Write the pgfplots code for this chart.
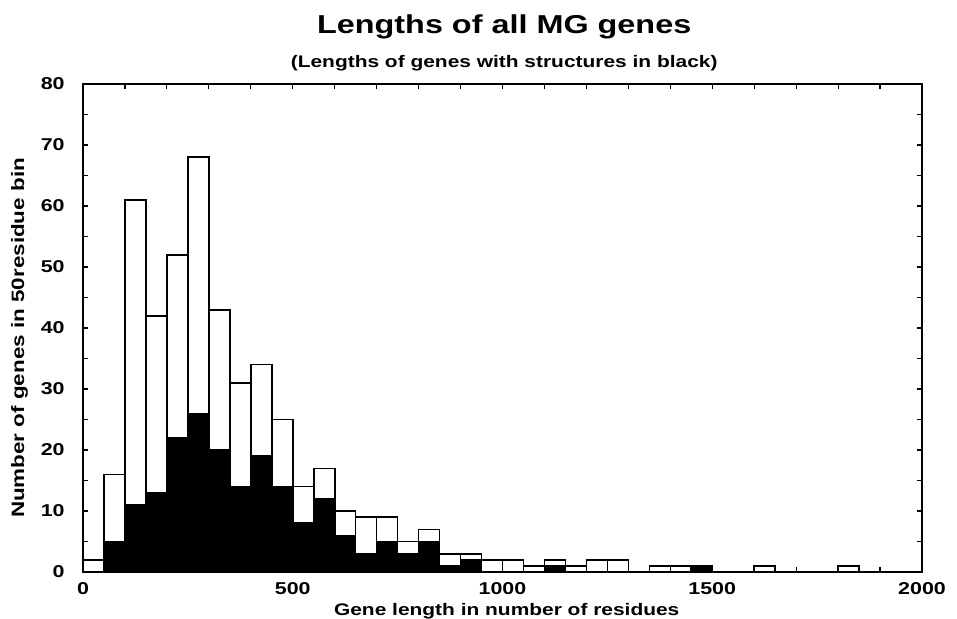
\documentclass[border=0pt]{standalone}
\usepackage{fontspec}
\setmainfont[FakeStretch=1.25]{Liberation Sans}
\usepackage{pgfplots}
\pgfplotsset{compat=1.18}
\usepackage{pgfplotstable}

% bin left edge, all genes, genes with structures (last row closes the interval)
\pgfplotstableread{
x    all  struct
0    2    0
50   16   5
100  61   11
150  42   13
200  52   22
250  68   26
300  43   20
350  31   14
400  34   19
450  25   14
500  14   8
550  17   12
600  10   6
650  9    3
700  9    5
750  5    3
800  7    5
850  3    1
900  3    2
950  2    0
1000 2    0
1050 1    0
1100 2    1
1150 1    0
1200 2    0
1250 2    0
1300 0    0
1350 1    0
1400 1    0
1450 1    1
1500 0    0
1550 0    0
1600 1    0
1650 0    0
1700 0    0
1750 0    0
1800 1    0
1850 0    0
1900 0    0
1950 0    0
2000 0    0
}\genes

\begin{document}
\begin{tikzpicture}
\begin{axis}[
  at={(0,0)}, anchor=south west,
  scale only axis, width=419.5bp, height=244bp,
  xmin=0, xmax=2000, ymin=0, ymax=80,
  xtick={0,500,1000,1500,2000}, minor x tick num=4,
  ytick={0,10,...,80}, minor y tick num=1,
  tick align=inside, major tick length=2.6bp, minor tick length=2.6bp,
  tick style={black, line width=0.6bp},
  axis line style={line width=1bp},
  /pgf/number format/assume math mode=true,
  /pgf/number format/set thousands separator={},
  ticklabel style={font=\bfseries\fontsize{8.6}{10}\selectfont, inner sep=0pt},
  xticklabel style={anchor=base, yshift=-11bp},
  yticklabel style={anchor=east, xshift=-9bp},
  clip=false,
]
\addplot[ybar interval, fill=white, draw=black, line width=0.8bp] table[x=x, y=all] {\genes};
\addplot[ybar interval, fill=black, draw=black, line width=0.8bp] table[x=x, y=struct] {\genes};
\node[font=\bfseries\fontsize{13}{15}\selectfont, anchor=base, yshift=25.5bp] at (rel axis cs:0.502,1) {Lengths of all MG genes};
\node[font=\bfseries\fontsize{8.4}{10}\selectfont, anchor=base, yshift=8.5bp] at (rel axis cs:0.502,1) {(Lengths of genes with structures in black)};
\node[font=\bfseries\fontsize{8.4}{10}\selectfont, anchor=base, yshift=-21.5bp] at (rel axis cs:0.505,0) {Gene length in number of residues};
\node[font=\bfseries\fontsize{9}{11}\selectfont, rotate=90, anchor=center, yshift=31.75bp] at (rel axis cs:0,0.4795) {Number of genes in 50residue bin};
\end{axis}
\pgfresetboundingbox
\path (-41.5bp,-23.5bp) rectangle (437bp,286bp);
\end{tikzpicture}
\end{document}
